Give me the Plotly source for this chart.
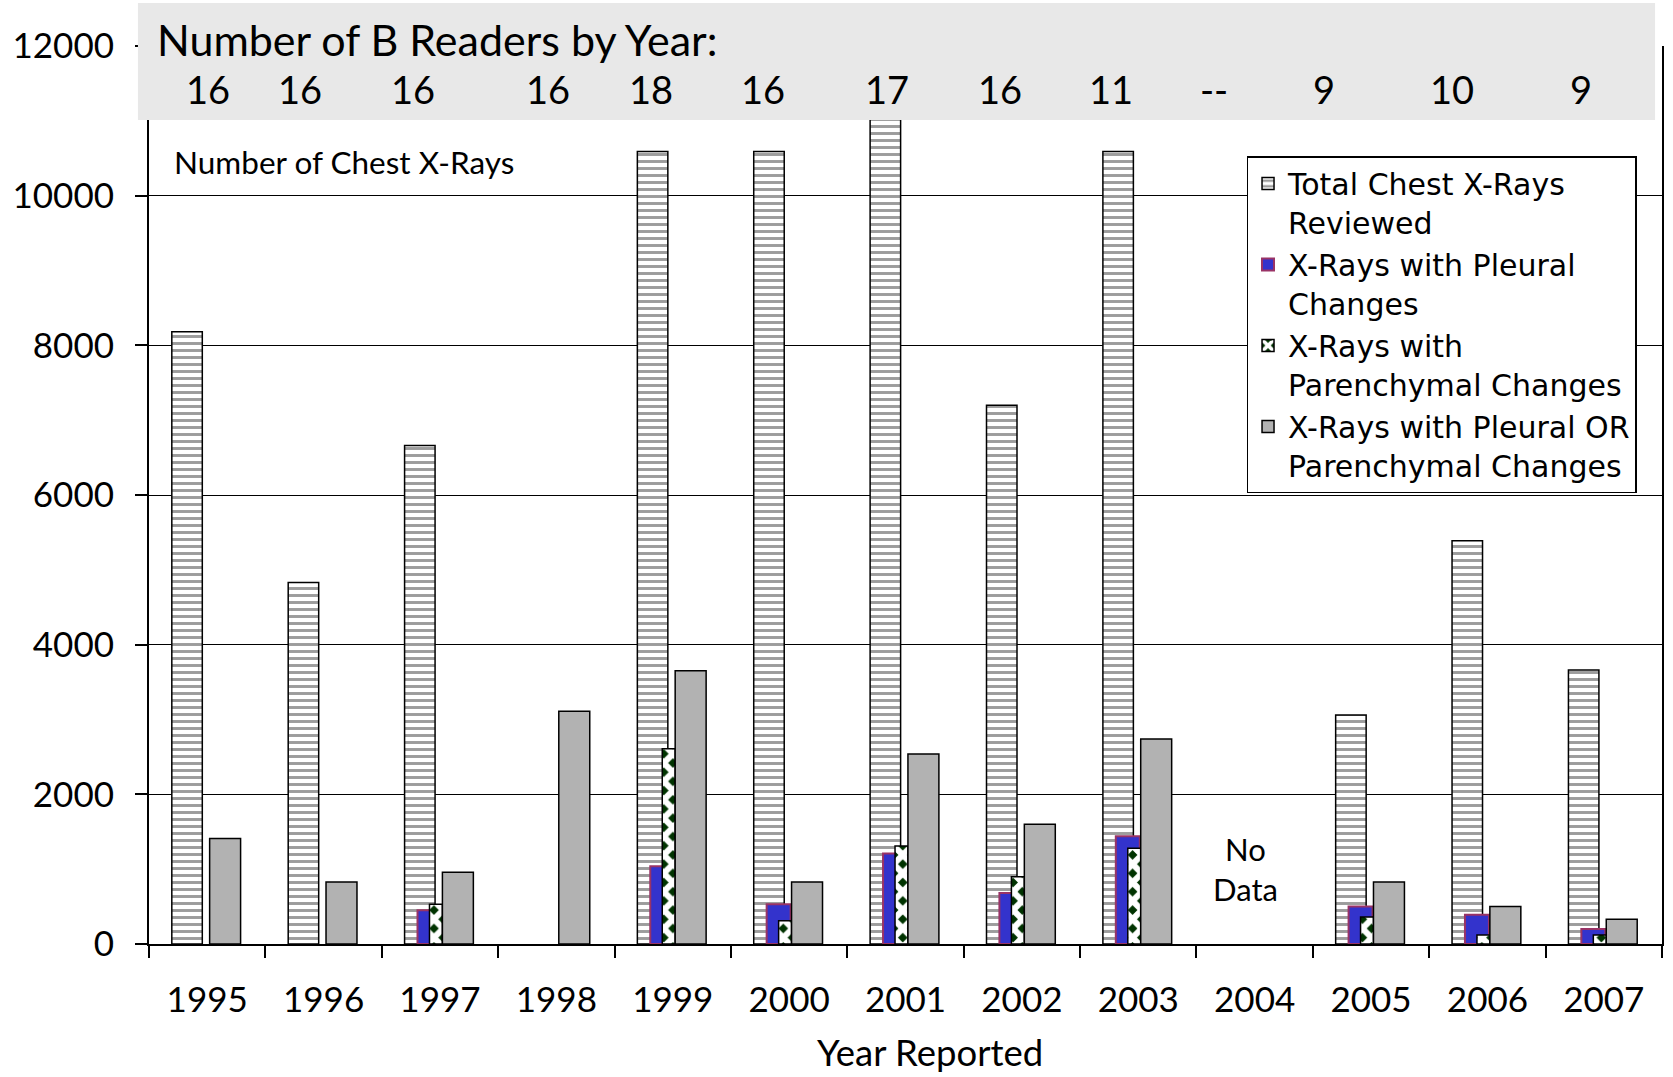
import plotly.graph_objects as go

# Reporting years (categories)
years = ["1995", "1996", "1997", "1998", "1999", "2000", "2001",
         "2002", "2003", "2004", "2005", "2006", "2007"]

# Chest x-ray counts per year (None = not reported)
total_reviewed = [8180, 4830, 6660, None, 10590, 10590, 11500,
                  7200, 10590, None, 3060, 5390, 3660]
pleural = [None, None, 450, None, 1040, 530, 1210,
           680, 1440, None, 500, 390, 200]
parenchymal = [None, None, 530, None, 2610, 310, 1310,
               900, 1280, None, 360, 120, 120]
pleural_or_parenchymal = [1410, 830, 960, 3110, 3650, 830, 2540,
                          1600, 2740, None, 830, 500, 330]

# Number of B readers per year, shown in the header band
b_readers = ["16", "16", "16", "16", "18", "16", "17",
             "16", "11", "--", "9", "10", "9"]
# horizontal placement of those counts (category index units)
b_reader_pos = [0.006, 0.796, 1.766, 2.925, 3.809, 4.779, 5.843,
                6.813, 7.766, 8.650, 9.594, 10.693, 11.80]

y_ticks = [0, 2000, 4000, 6000, 8000, 10000, 12000]
y_tick_text = [str(v) for v in y_ticks]

LABEL_FONT = "Lato"
LEGEND_FONT = "DejaVu Sans"

fig = go.Figure()

fig.add_trace(go.Bar(
    x=years, y=total_reviewed, name="Total Chest X-Rays<br>Reviewed",
    offset=-0.304, width=0.262, legendgroup="a",
    marker=dict(color="white", line=dict(color="black", width=1.5),
                pattern=dict(shape="-", fgcolor="#9c9c9c", bgcolor="white",
                             size=7, solidity=0.42, fillmode="replace")),
))
fig.add_trace(go.Bar(
    x=years, y=pleural, name="X-Rays with Pleural<br>Changes",
    offset=-0.193, width=0.206, legendgroup="b",
    marker=dict(color="#3333cc", line=dict(color="#993366", width=2)),
))
fig.add_trace(go.Bar(
    x=years, y=parenchymal, name="X-Rays with<br>Parenchymal Changes",
    offset=-0.09, width=0.111, legendgroup="c",
    marker=dict(color="#003300", line=dict(color="black", width=1.5),
                pattern=dict(shape="x", fgcolor="white", bgcolor="#003300",
                             size=13, solidity=0.72, fillmode="replace")),
))
fig.add_trace(go.Bar(
    x=years, y=pleural_or_parenchymal,
    name="X-Rays with Pleural OR<br>Parenchymal Changes",
    offset=0.021, width=0.266, legendgroup="d",
    marker=dict(color="#b2b2b2", line=dict(color="black", width=1.5)),
))

annotations = []
# header band title
annotations.append(dict(
    text="Number of B Readers by Year:", xref="paper", yref="paper",
    x=0.004, y=1.0067, xanchor="left", yanchor="middle", showarrow=False,
    font=dict(family=LABEL_FONT, size=43, color="black"),
))
for label, pos in zip(b_readers, b_reader_pos):
    annotations.append(dict(
        text=label, xref="x", yref="paper", x=pos, y=0.952,
        xanchor="center", yanchor="middle", showarrow=False,
        font=dict(family=LABEL_FONT, size=38, color="black"),
    ))
annotations.append(dict(
    text="Number of Chest X-Rays", xref="paper", yref="paper",
    x=0.0155, y=0.871, xanchor="left", yanchor="middle", showarrow=False,
    font=dict(family=LABEL_FONT, size=31.5, color="black"),
))
annotations.append(dict(
    text="No<br>Data", xref="x", yref="y", x=8.92, y=1000,
    xanchor="center", yanchor="middle", showarrow=False,
    font=dict(family=LABEL_FONT, size=31, color="black"),
))
annotations.append(dict(
    text="Year Reported", xref="paper", yref="paper",
    x=0.516, y=-0.1205, xanchor="center", yanchor="middle", showarrow=False,
    font=dict(family=LABEL_FONT, size=36.5, color="black"),
))

fig.update_layout(
    width=1673, height=1077,
    margin=dict(l=149, r=9, t=46, b=133, pad=0),
    paper_bgcolor="white", plot_bgcolor="white",
    barmode="overlay",
    showlegend=True,
    legend=dict(
        x=0.7254, y=0.8775, xanchor="left", yanchor="top",
        bgcolor="white", bordercolor="black", borderwidth=1.5,
        font=dict(family=LEGEND_FONT, size=30, color="black"),
        valign="top", tracegroupgap=0, traceorder="normal",
    ),
    shapes=[dict(
        type="rect", xref="paper", yref="paper",
        x0=-0.0073, x1=0.9954, y0=0.9176, y1=1.0479,
        fillcolor="#e8e8e8", line=dict(width=0), layer="above",
    )],
    annotations=annotations,
)

fig.update_xaxes(
    type="category", categoryorder="array", categoryarray=years,
    range=[-0.5, 12.5], tickson="boundaries",
    ticks="outside", ticklen=12, tickwidth=1.5, tickcolor="black",
    showline=True, linecolor="black", linewidth=2,
    showgrid=False, ticklabelstandoff=24,
    tickfont=dict(family=LABEL_FONT, size=35, color="black"),
)
fig.update_yaxes(
    range=[0, 12000], tickvals=y_ticks, ticktext=y_tick_text,
    ticks="outside", ticklen=12, tickwidth=1.5, tickcolor="black",
    showline=True, linecolor="black", linewidth=2, mirror=True,
    showgrid=True, gridcolor="black", gridwidth=1,
    zeroline=False, ticklabelstandoff=14,
    tickfont=dict(family=LABEL_FONT, size=35, color="black"),
)

fig.write_html("out.html")
